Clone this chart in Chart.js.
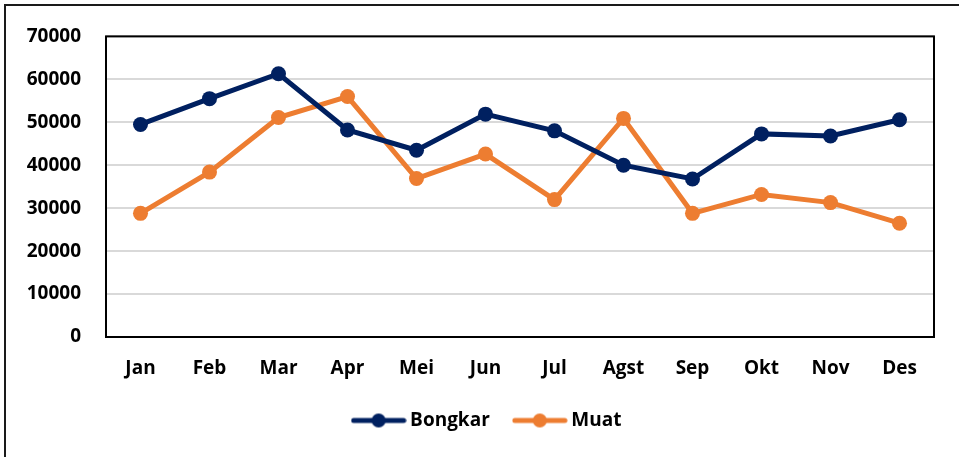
<!DOCTYPE html>
<html>
<head>
<meta charset="utf-8">
<script src="https://cdn.jsdelivr.net/npm/chart.js@4/dist/chart.umd.min.js"></script>
<style>
  html, body { margin: 0; padding: 0; background: #fff; overflow: hidden; }
  #wrap { position: relative; width: 959px; height: 457px; }
  #frame { position: absolute; left: 4px; top: 4px; width: 980px; height: 480px; border: 2px solid #1a1a1a; box-sizing: border-box; pointer-events: none; }
  canvas { position: absolute; left: 0; top: 0; }
</style>
</head>
<body>
<div id="wrap">
  <canvas id="chart" width="959" height="457"></canvas>
  <div id="frame"></div>
</div>
<script>
// month labels on the x axis
const months = ['Jan', 'Feb', 'Mar', 'Apr', 'Mei', 'Jun', 'Jul', 'Agst', 'Sep', 'Okt', 'Nov', 'Des'];

// values
const bongkar = [49500, 55500, 61300, 48200, 43500, 51900, 48000, 40000, 36800, 47300, 46800, 50600];
const muat = [28800, 38400, 51100, 56000, 36900, 42600, 32000, 50900, 28800, 33200, 31300, 26500];

const navy = '#002060';
const orange = '#ED7D31';
const font = { family: '"Open Sans", sans-serif', size: 19, weight: 'bold' };

// little line+dot image for the legend
function legendMark(color) {
  const c = document.createElement('canvas');
  c.width = 56;
  c.height = 16;
  const g = c.getContext('2d');
  g.strokeStyle = color;
  g.lineWidth = 5;
  g.lineCap = 'round';
  g.beginPath();
  g.moveTo(3, 8);
  g.lineTo(53, 8);
  g.stroke();
  g.fillStyle = color;
  g.beginPath();
  g.arc(28, 8, 7, 0, Math.PI * 2);
  g.fill();
  return c;
}

// black box round the plot area
const plotBorder = {
  id: 'plotBorder',
  beforeDatasetsDraw(chart) {
    const a = chart.chartArea;
    const ctx = chart.ctx;
    ctx.save();
    ctx.strokeStyle = '#000';
    ctx.lineWidth = 2;
    ctx.strokeRect(a.left, a.top, a.right - a.left, a.bottom - a.top);
    ctx.restore();
  }
};

// legend sits a bit right of the canvas centre in the original
const nudgeLegend = {
  id: 'nudgeLegend',
  afterLayout(chart) {
    if (chart.legend) {
      chart.legend.left += 22;
      chart.legend.right += 22;
    }
  }
};

new Chart(document.getElementById('chart'), {
  type: 'line',
  data: {
    labels: months,
    datasets: [
      {
        label: 'Bongkar',
        data: bongkar,
        borderColor: navy,
        backgroundColor: navy,
        borderWidth: 5,
        pointRadius: 7.5,
        pointBackgroundColor: navy,
        pointBorderWidth: 0,
        tension: 0
      },
      {
        label: 'Muat',
        data: muat,
        borderColor: orange,
        backgroundColor: orange,
        borderWidth: 5,
        pointRadius: 7.5,
        pointBackgroundColor: orange,
        pointBorderWidth: 0,
        tension: 0
      }
    ]
  },
  options: {
    responsive: false,
    animation: false,
    events: [],
    layout: { padding: { left: 0, right: 25, top: 35, bottom: 17 } },
    elements: { point: { pointStyle: 'circle' } },
    scales: {
      x: {
        offset: true,
        grid: { display: false, drawTicks: false },
        border: { display: false },
        ticks: { color: '#000', font: font, padding: 20, maxRotation: 0, autoSkip: false },
        afterFit(scale) { scale.height = 46; }
      },
      y: {
        min: 0,
        max: 70000,
        grid: { color: '#d9d9d9', lineWidth: 2, drawTicks: false },
        border: { display: false },
        ticks: {
          stepSize: 10000,
          color: '#000',
          font: font,
          padding: 25,
          callback: v => String(v)
        },
        afterFit(scale) { scale.width = 106; }
      }
    },
    plugins: {
      tooltip: { enabled: false },
      legend: {
        position: 'bottom',
        labels: {
          color: '#000',
          font: font,
          usePointStyle: true,
          pointStyleWidth: 44,
          padding: 28,
          generateLabels(chart) {
            return chart.data.datasets.map((ds, i) => ({
              text: ds.label,
              fontColor: '#000',
              pointStyle: legendMark(ds.borderColor),
              hidden: false,
              datasetIndex: i,
              lineWidth: 0
            }));
          }
        }
      }
    }
  },
  plugins: [plotBorder, nudgeLegend]
});
</script>
</body>
</html>
